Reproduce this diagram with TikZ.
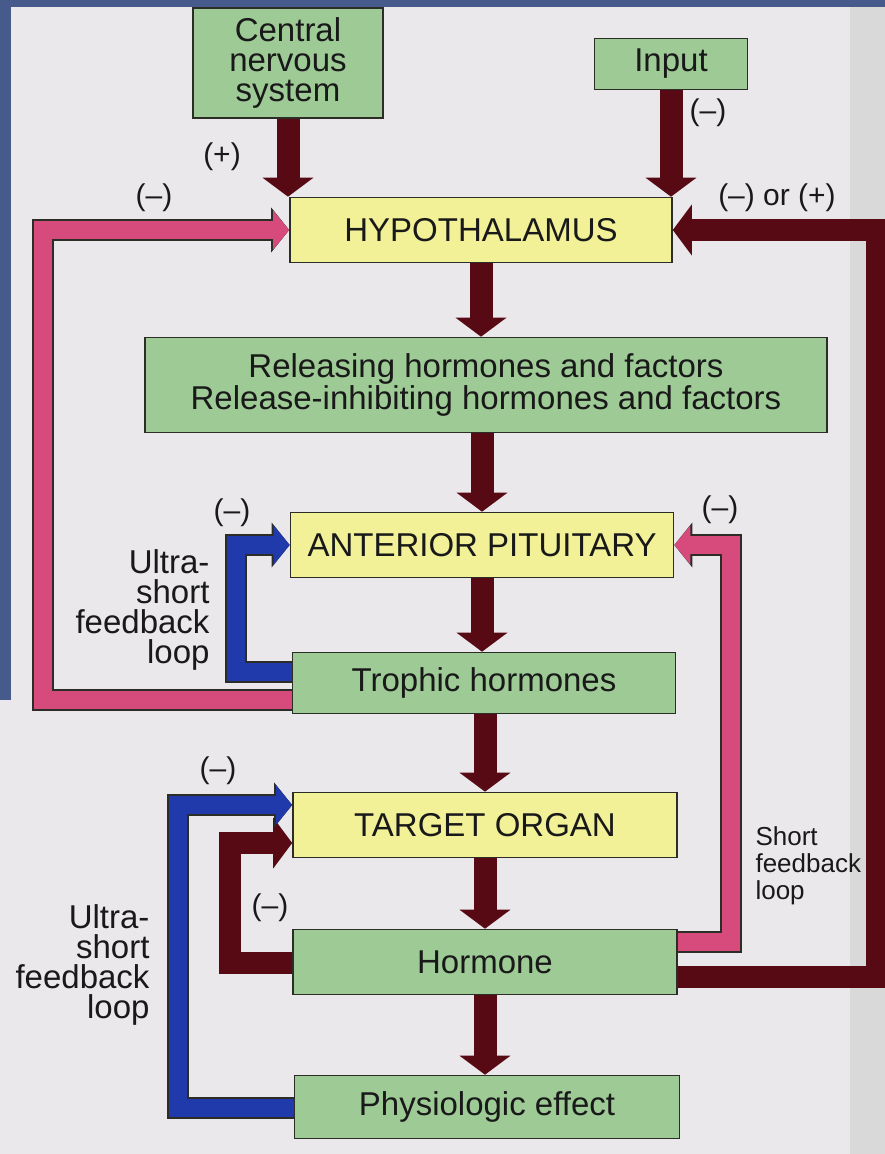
\documentclass[tikz,border=0pt]{standalone}
\usepackage{fontspec}
\setmainfont{Liberation Sans}
\usetikzlibrary{arrows.meta}

\definecolor{paper}{RGB}{234,232,235}
\definecolor{slide}{RGB}{70,90,140}
\definecolor{boxgreen}{RGB}{158,202,150}
\definecolor{boxyellow}{RGB}{242,241,152}
\definecolor{maroon}{RGB}{88,10,20}
\definecolor{loopink}{RGB}{214,74,124}
\definecolor{loopblue}{RGB}{32,58,172}
\definecolor{edge}{RGB}{45,45,40}

\begin{document}
\begin{tikzpicture}[x=1pt, y=-1pt,
  every node/.style={font=\fontsize{33}{30}\selectfont, text=black!90},
  greenbox/.style={draw=edge, line width=1.6pt, fill=boxgreen, align=center, inner sep=0pt},
  yellowbox/.style={draw=edge, line width=1.6pt, fill=boxyellow, align=center, inner sep=0pt},
  sign/.style={font=\fontsize{30}{30}\selectfont},
  flow/.style={draw=maroon, line width=23pt, -{Triangle[length=19pt,width=50pt]}},
  fb/.style={draw=#1, line width=18pt, -{Triangle[length=16pt,width=38pt]},
    preaction={draw=edge, line width=22pt, -{Triangle[length=18pt,width=44pt]}}}]

% Page
\useasboundingbox (0,0) rectangle (885,1154);
\fill[paper] (0,0) rectangle (885,1154);
\fill[slide] (0,0) rectangle (885,7);
\fill[slide] (0,0) rectangle (11,700);
\fill[black!15] (850,7) rectangle (885,1154);

% Boxes
\node[greenbox, minimum width=190pt, minimum height=110pt] (cns) at (288,63) {Central\\nervous\\system};
\node[greenbox, minimum width=153pt, minimum height=51pt] (input) at (671,64) {Input};
\node[yellowbox, minimum width=382pt, minimum height=65pt] (hypo) at (481,230) {HYPOTHALAMUS};
\node[greenbox, minimum width=682pt, minimum height=95pt] (rel) at (486,385)
  {Releasing hormones and factors\\Release-inhibiting hormones and factors};
\node[yellowbox, minimum width=383pt, minimum height=65pt] (ap) at (482,545) {ANTERIOR PITUITARY};
\node[greenbox, minimum width=383pt, minimum height=61pt] (troph) at (484,683) {Trophic hormones};
\node[yellowbox, minimum width=384pt, minimum height=65pt] (targ) at (485,825) {TARGET ORGAN};
\node[greenbox, minimum width=384pt, minimum height=65pt] (horm) at (485,962) {Hormone};
\node[greenbox, minimum width=385pt, minimum height=63pt] (phys) at (487,1107) {Physiologic effect};

% Main chain
\draw[flow] (cns.south) -- (cns.south |- hypo.north);
\draw[flow] (input.south) -- (input.south |- hypo.north);
\draw[flow] (hypo.south) -- (hypo.south |- rel.north);
\draw[flow] (ap.north |- rel.south) -- (ap.north);
\draw[flow] (ap.south) -- (ap.south |- troph.north);
\draw[flow] (targ.north |- troph.south) -- (targ.north);
\draw[flow] (targ.south) -- (targ.south |- horm.north);
\draw[flow] (horm.south) -- (horm.south |- phys.north);

% Feedback loops
\draw[fb=loopink] ([yshift=-17pt]troph.west) -- ++(-249,0) |- (hypo.west);
\draw[fb=loopblue] ([yshift=11pt]troph.west) -- ++(-56,0) |- (ap.west);
\draw[fb=loopink] ([yshift=20pt]horm.east) -- ++(53,0) |- (ap.east);
\draw[flow, line width=22pt] ([yshift=-15pt]horm.east) -- ++(199,0) |- (hypo.east);
\draw[flow, line width=22pt] ([yshift=-1pt]horm.west) -- ++(-62,0) |- ([yshift=-18pt]targ.west);
\draw[fb=loopblue] ([yshift=-1pt]phys.west) -- ++(-116,0) |- ([yshift=20pt]targ.west);

% Labels
\node[sign] (s1) at (222,157) {(+)};
\node[sign] (s2) at (708,113) {(–)};
\node[sign] (s3) at (154,198) {(–)};
\node[sign] (s4) at (777,198) {(–) or (+)};
\node[sign] (s5) at (232,513) {(–)};
\node[sign] (s6) at (720,510) {(–)};
\node[sign] (s7) at (218,771) {(–)};
\node[sign] (s8) at (270,908) {(–)};
\node[align=right, anchor=east] (usl1) at (213,610) {Ultra-\\short\\feedback\\loop};
\node[align=right, anchor=east] (usl2) at (153,965) {Ultra-\\short\\feedback\\loop};
\node[align=left, anchor=west, font=\fontsize{26}{27}\selectfont] (sl) at (752,866) {Short\\feedback\\loop};

\end{tikzpicture}
\end{document}
